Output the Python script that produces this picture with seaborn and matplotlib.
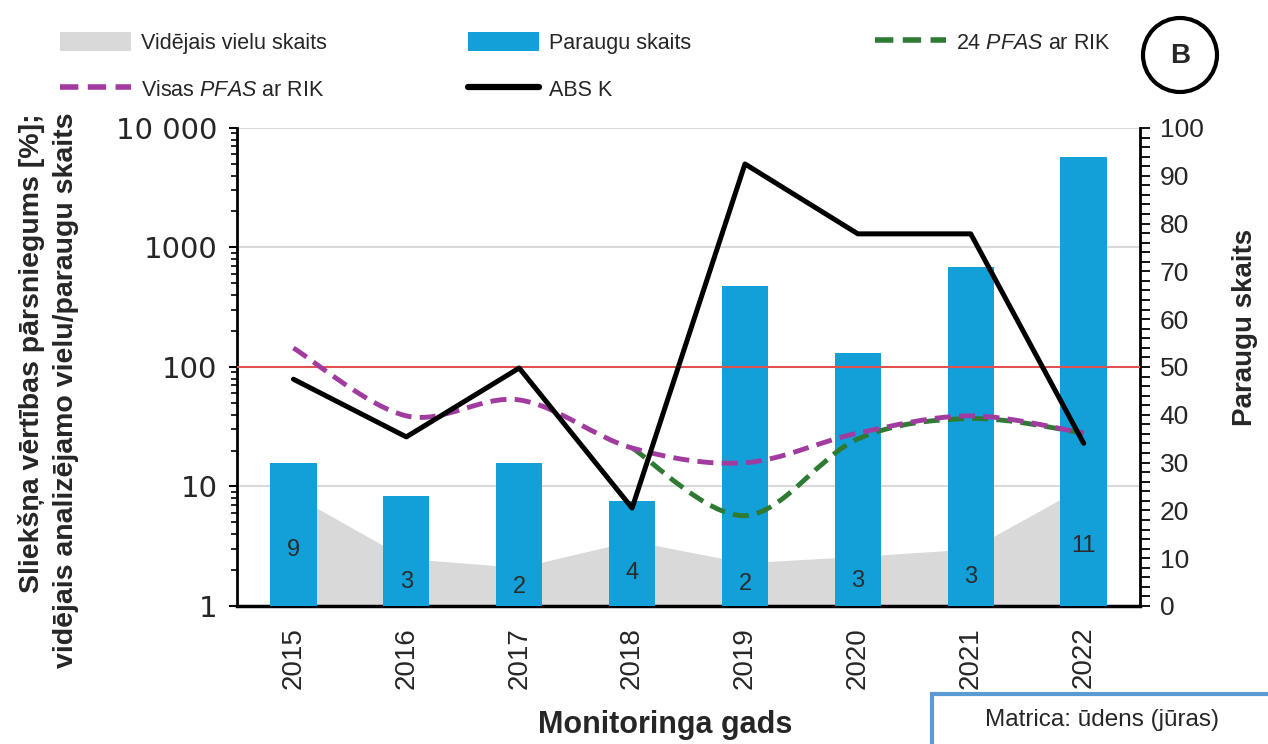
import numpy as np
import matplotlib
matplotlib.use("Agg")
import matplotlib.pyplot as plt
import seaborn as sns
from matplotlib.path import Path
from matplotlib.patches import PathPatch, Patch, Rectangle, Ellipse
from matplotlib.lines import Line2D
from matplotlib.ticker import FixedLocator, NullFormatter, MultipleLocator

# data
years = np.array([2015, 2016, 2017, 2018, 2019, 2020, 2021, 2022])
sample_count = [30, 23, 30, 22, 67, 53, 71, 94]           # right axis (bars)
avg_substances = [8.5, 2.5, 2.1, 3.5, 2.3, 2.6, 3.0, 10]  # grey area, left log axis
avg_labels = ["9", "3", "2", "4", "2", "3", "3", "11"]
abs_k = [79, 26, 98, 6.6, 5000, 1300, 1300, 23]
visas_pfas = [144, 39, 53, 21, 15.8, 28, 39, 28]
pfas_24 = [np.nan, np.nan, np.nan, 21, 5.7, 25, 37, 28]
threshold = 100

blue = "#139fd7"
grey = "#d9d9d9"
purple = "#a23ba0"
green = "#2e7a32"
dash = (0, (3.3, 1.7))

sns.set_style("white")
plt.rcParams["font.family"] = ["Liberation Sans", "DejaVu Sans"]
plt.rcParams["mathtext.fontset"] = "custom"
plt.rcParams["mathtext.rm"] = "Liberation Sans"
plt.rcParams["mathtext.it"] = "Liberation Sans:italic"


def smooth_path(xs, ys):
    # Catmull-Rom style smoothing in log space, like Excel's smoothed lines
    pts = [(x, np.log10(y)) for x, y in zip(xs, ys) if not np.isnan(y)]
    verts = [pts[0]]
    codes = [Path.MOVETO]
    for i in range(len(pts) - 1):
        p0 = pts[max(i - 1, 0)]
        p1 = pts[i]
        p2 = pts[i + 1]
        p3 = pts[min(i + 2, len(pts) - 1)]
        c1 = (p1[0] + (p2[0] - p0[0]) / 6, p1[1] + (p2[1] - p0[1]) / 6)
        c2 = (p2[0] - (p3[0] - p1[0]) / 6, p2[1] - (p3[1] - p1[1]) / 6)
        verts += [c1, c2, p2]
        codes += [Path.CURVE4] * 3
    return Path([(x, 10 ** y) for x, y in verts], codes)


fig = plt.figure(figsize=(12.68, 7.44), dpi=100)
ax = fig.add_axes([0.1869, 0.1855, 0.7122, 0.6425])

# bottom layer: grey area + grid on log axis
ax.set_yscale("log")
ax.set_ylim(1, 10000)
ax.set_xlim(2014.5, 2022.5)
ax.fill_between(years, 1, avg_substances, color=grey, lw=0)
for g in [10, 1000, 10000]:
    ax.axhline(g, color="#d9d9d9", lw=1.5, zorder=0)
ax.yaxis.set_major_locator(FixedLocator([1, 10, 100, 1000, 10000]))
ax.set_yticklabels(["1", "10", "100", "1000", "10 000"], family="DejaVu Sans", fontsize=21)
ax.yaxis.set_minor_locator(FixedLocator([m * 10 ** d for d in range(4) for m in range(2, 10)]))
ax.yaxis.set_minor_formatter(NullFormatter())
ax.tick_params(axis="y", which="major", direction="out", length=6, width=1.5, color="black", pad=8)
ax.tick_params(axis="y", which="minor", direction="out", length=4, width=1.2, color="black")
ax.set_xticks(years)
ax.set_xticklabels([str(y) for y in years], rotation=90, fontsize=20)
ax.tick_params(axis="x", length=0, pad=15)
for s in ["top", "right"]:
    ax.spines[s].set_visible(False)
ax.spines["left"].set_linewidth(2)
ax.spines["bottom"].set_linewidth(2.5)
ax.spines["left"].set_color("black")
ax.spines["bottom"].set_color("black")

# middle layer: bars on the right linear axis
ax_bar = ax.twinx()
sns.barplot(x=years, y=sample_count, ax=ax_bar, native_scale=True, width=0.41,
            color=blue, saturation=1, errorbar=None, edgecolor="none")
ax_bar.set_xlim(2014.5, 2022.5)
ax_bar.set_ylim(0, 100)
ax_bar.yaxis.tick_right()
ax_bar.yaxis.set_major_locator(MultipleLocator(10))
ax_bar.yaxis.set_minor_locator(MultipleLocator(2))
ax_bar.tick_params(axis="y", which="both", direction="out", length=7, width=1.3,
                   color="black", labelsize=19, pad=7)
ax_bar.set_ylabel("")
for s in ["top", "left", "bottom"]:
    ax_bar.spines[s].set_visible(False)
ax_bar.spines["right"].set_linewidth(2)
ax_bar.spines["right"].set_color("black")

# top layer: lines on log axis
ax_line = ax.twinx()
ax_line.set_yscale("log")
ax_line.set_ylim(1, 10000)
ax_line.set_xlim(2014.5, 2022.5)
ax_line.yaxis.set_visible(False)
for s in ax_line.spines.values():
    s.set_visible(False)
ax_line.axhline(threshold, color="#e0514f", lw=1.5, zorder=1)
ax_line.add_patch(PathPatch(smooth_path(years, pfas_24), fill=False, edgecolor=green,
                            lw=3.5, linestyle=dash, zorder=2))
ax_line.add_patch(PathPatch(smooth_path(years, visas_pfas), fill=False, edgecolor=purple,
                            lw=3.5, linestyle=dash, zorder=3))
sns.lineplot(x=years, y=abs_k, ax=ax_line, color="black", lw=3.6, zorder=4)
for x, v, lab in zip(years, avg_substances, avg_labels):
    ax_line.text(x, np.sqrt(v), lab, ha="center", va="center", fontsize=17,
                 color="#2b2b2b", zorder=5)
ax_line.set_xlim(2014.5, 2022.5)

# axis titles
fig.text(665 / 1268, 1 - 725 / 744, "Monitoringa gads", ha="center", va="center",
         fontsize=22, fontweight="bold")
fig.text(1245 / 1268, 1 - 327 / 744, "Paraugu skaits", ha="center", va="center",
         rotation=90, fontsize=20, fontweight="bold")
fig.text(49 / 1268, 1 - 113 / 744,
         "Sliekšņa vērtības pārsniegums [%];\nvidējais analizējamo vielu/paraugu skaits",
         ha="center", va="top", rotation=90, multialignment="right", fontsize=20.5,
         fontweight="bold", linespacing=1.4)

# legend, three columns
leg_kw = dict(loc="upper left", frameon=False, fontsize=15.5, handlelength=3.3,
              handleheight=1.0, handletextpad=0.45, labelspacing=1.15, borderpad=0,
              borderaxespad=0)
col1 = [Patch(facecolor=grey, edgecolor="none"),
        Line2D([], [], color=purple, lw=4, linestyle=dash)]
fig.legend(col1, ["Vidējais vielu skaits", "Visas $\\mathit{PFAS}$ ar RIK"],
           bbox_to_anchor=(60 / 1268, 0.957), **leg_kw)
col2 = [Patch(facecolor=blue, edgecolor="none"),
        Line2D([], [], color="black", lw=4.5)]
fig.legend(col2, ["Paraugu skaits", "ABS K"], bbox_to_anchor=(468 / 1268, 0.957), **leg_kw)
col3 = [Line2D([], [], color=green, lw=4, linestyle=dash)]
fig.legend(col3, ["24 $\\mathit{PFAS}$ ar RIK"], bbox_to_anchor=(875 / 1268, 0.957), **leg_kw)

# panel marker
fig.patches.append(Ellipse((1180 / 1268, 1 - 55 / 744), 74 / 1268, 74 / 744,
                           transform=fig.transFigure, fill=False, lw=3, edgecolor="black"))
fig.text(1180 / 1268, 1 - 56 / 744, "B", ha="center", va="center", fontsize=20,
         fontweight="bold")

# matrix box
fig.patches.append(Rectangle((932 / 1268, -0.02), 0.3, 1 - 694 / 744 + 0.02,
                             transform=fig.transFigure, facecolor="white",
                             edgecolor="#5b9bd5", lw=3, clip_on=False))
fig.text(1102 / 1268, 1 - 720 / 744, "Matrica: ūdens (jūras)", ha="center", va="center",
         fontsize=17.5)

fig.savefig("out.png", dpi=100)
